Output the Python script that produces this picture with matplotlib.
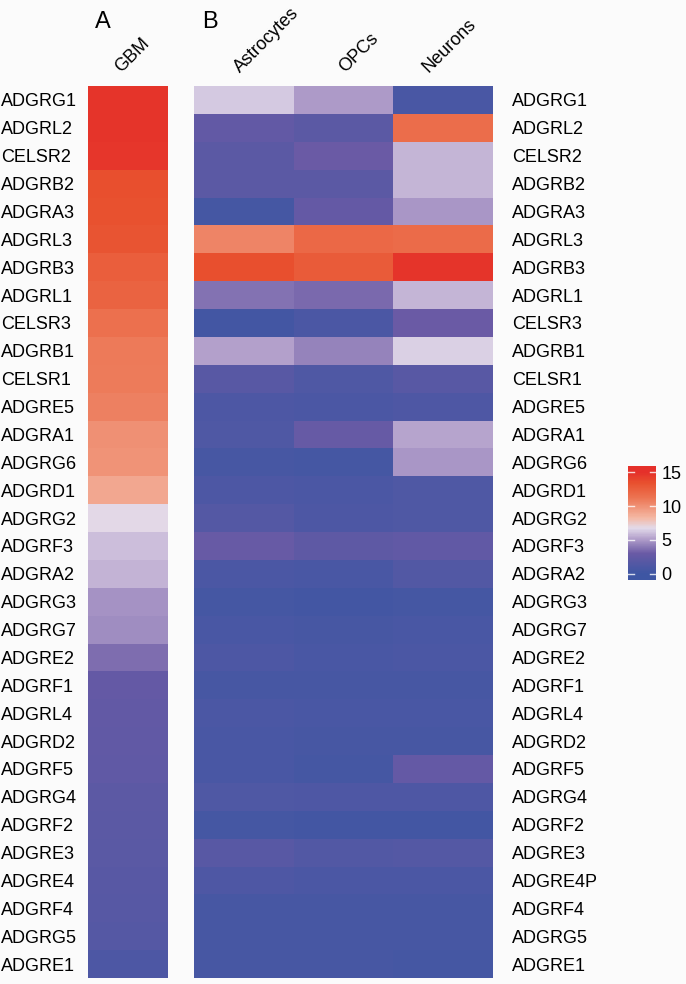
import matplotlib
matplotlib.use("Agg")
import matplotlib.pyplot as plt
import numpy as np
from matplotlib.colors import LinearSegmentedColormap, Normalize
from matplotlib.transforms import blended_transform_factory

plt.rcParams['font.family'] = ['Liberation Sans', 'DejaVu Sans']

genes = ["ADGRG1", "ADGRL2", "CELSR2", "ADGRB2", "ADGRA3", "ADGRL3", "ADGRB3",
         "ADGRL1", "CELSR3", "ADGRB1", "CELSR1", "ADGRE5", "ADGRA1", "ADGRG6",
         "ADGRD1", "ADGRG2", "ADGRF3", "ADGRA2", "ADGRG3", "ADGRG7", "ADGRE2",
         "ADGRF1", "ADGRL4", "ADGRD2", "ADGRF5", "ADGRG4", "ADGRF2", "ADGRE3",
         "ADGRE4", "ADGRF4", "ADGRG5", "ADGRE1"]
genes_right = genes[:28] + ["ADGRE4P"] + genes[29:]

gbm = [14.8, 14.8, 14.7, 13.5, 13.4, 13.2, 12.6, 12.3, 11.5, 11.0, 10.9, 10.7,
       10.0, 9.9, 9.0, 6.8, 6.0, 5.7, 4.8, 4.6, 3.6, 2.6, 2.5, 2.4, 2.3, 2.1,
       2.0, 1.9, 1.8, 1.7, 1.6, 1.0]
astro = [6.3, 2.5, 2.0, 2.0, 0.5, 10.5, 13.5, 3.8, 0.4, 5.2, 1.8, 1.0, 1.2, 0.6,
         1.0, 1.5, 2.8, 0.9, 0.5, 0.8, 1.0, 0.7, 0.9, 0.8, 0.8, 1.2, 0.5, 1.8,
         1.1, 0.6, 0.6, 0.6]
opcs = [5.0, 2.0, 3.0, 2.0, 2.6, 12.0, 12.8, 3.5, 0.9, 4.3, 1.2, 0.9, 2.7, 0.5,
        0.9, 1.0, 2.2, 0.8, 0.4, 0.7, 0.8, 0.6, 0.8, 0.6, 0.5, 1.1, 0.4, 1.4,
        0.9, 0.7, 0.6, 0.6]
neurons = [0.8, 11.7, 5.8, 5.8, 4.9, 11.8, 14.8, 5.8, 3.0, 6.5, 1.8, 1.1, 5.3,
           4.9, 1.2, 1.2, 2.4, 1.4, 0.5, 0.8, 0.9, 0.6, 0.8, 0.6, 2.6, 1.1, 0.4,
           1.5, 0.9, 0.6, 0.6, 0.5]
cell_types = ["Astrocytes", "OPCs", "Neurons"]

# blue -> lavender/white -> red
cmap = LinearSegmentedColormap.from_list("bwr_soft", [
    (0.00, "#3E56A3"), (0.20, "#6A5AA5"), (0.35, "#B5A2CC"), (0.45, "#E2DAEA"),
    (0.55, "#F4B8A4"), (0.75, "#EC7452"), (0.90, "#E8502E"), (1.00, "#E5302A")])
norm = Normalize(0, 15)

W, H = 686, 984
bg = "#FBFBFB"
fig = plt.figure(figsize=(W / 100, H / 100), dpi=100, facecolor=bg)

def px_axes(x0, y0, x1, y1):
    return fig.add_axes([x0 / W, 1 - y1 / H, (x1 - x0) / W, (y1 - y0) / H])

n = len(genes)
axA = px_axes(88, 86, 168, 978)
axA.pcolormesh(np.array(gbm).reshape(-1, 1), cmap=cmap, norm=norm)
axA.set_xlim(0, 1)
axA.set_ylim(n, 0)
axA.set_xticks([])
axA.set_yticks([])
for s in axA.spines.values():
    s.set_visible(False)

trans = blended_transform_factory(fig.transFigure, axA.transData)
for i, g in enumerate(genes):
    axA.text(1 / W, i + 0.5, g, transform=trans, ha='left',
             va='center_baseline', fontsize=13)

axB = px_axes(194, 86, 493, 978)
dataB = np.column_stack([astro, opcs, neurons])
axB.pcolormesh(dataB, cmap=cmap, norm=norm)
axB.set_xlim(0, 3)
axB.set_ylim(n, 0)
axB.set_xticks([])
axB.yaxis.tick_right()
axB.set_yticks(np.arange(n) + 0.5)
axB.set_yticklabels(genes_right, fontsize=13)
axB.tick_params(axis='y', length=0, pad=14)
for s in axB.spines.values():
    s.set_visible(False)

# rotated column headers (anchor = lower-left of the text, in pixels)
hdr_y = 1 - 76 / H
fig.text(124 / W, hdr_y, "GBM", rotation=45, rotation_mode='anchor',
         ha='left', va='bottom', fontsize=13)
hdr_x = [243, 348, 431]
for c, x in zip(cell_types, hdr_x):
    fig.text(x / W, hdr_y, c, rotation=45, rotation_mode='anchor',
             ha='left', va='bottom', fontsize=13)

fig.text(103 / W, 1 - 22 / H, "A", ha='center', va='center', fontsize=17)
fig.text(210 / W, 1 - 22 / H, "B", ha='center', va='center', fontsize=17)

# colour bar
axC = px_axes(628, 466, 656, 580)
lo, hi = -0.9, 15.9
grad = np.linspace(lo, hi, 200).reshape(-1, 1)
axC.pcolormesh([0, 1], np.linspace(lo, hi, 201), grad, cmap=cmap, norm=norm)
axC.set_ylim(lo, hi)
axC.set_xlim(0, 1)
axC.set_xticks([])
for s in axC.spines.values():
    s.set_visible(False)
for t in [0, 5, 10, 15]:
    axC.plot([0.0, 0.22], [t, t], color='white', lw=1, alpha=0.8)
    axC.plot([0.78, 1.0], [t, t], color='white', lw=1, alpha=0.8)
axC.yaxis.tick_right()
axC.set_yticks([0, 5, 10, 15])
axC.set_yticklabels(["0", "5", "10", "15"], fontsize=13)
axC.tick_params(axis='y', length=0, pad=4)

fig.savefig("out.png", dpi=100, facecolor=bg)
